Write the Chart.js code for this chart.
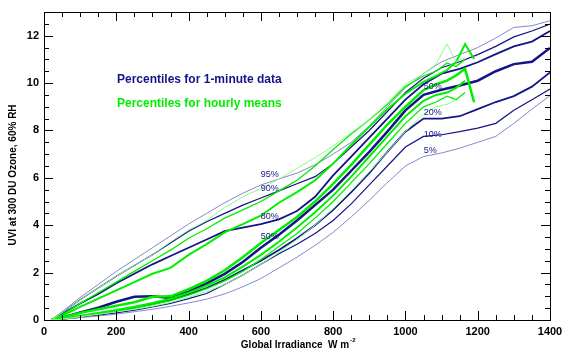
<!DOCTYPE html>
<html>
<head>
<meta charset="utf-8">
<script src="https://cdn.jsdelivr.net/npm/chart.js@4.4.0/dist/chart.umd.min.js"></script>
<style>
  html, body { margin: 0; padding: 0; background: #fff; }
</style>
</head>
<body>
<canvas id="uviChart" width="562" height="349"></canvas>
<script>
// irradiance (W m-2) where the percentile curves were read
const minuteX = [20, 50, 100, 150, 200, 250, 300, 350, 400, 450, 500, 550, 600, 650, 700, 750, 800, 850, 900, 950, 1000, 1050, 1100, 1150, 1200, 1250, 1300, 1350, 1400];
const hourlyX = [20, 50, 100, 150, 200, 250, 300, 350, 400, 450, 500, 550, 600, 650, 700, 750, 800, 850, 900, 950, 1000, 1050, 1085, 1115, 1140, 1165, 1190];

// percentiles for 1-minute data
const min95 = [0, 0.35, 0.95, 1.5, 2.05, 2.55, 3.05, 3.55, 4.05, 4.5, 4.95, 5.35, 5.7, 5.95, 6.2, 6.55, 7.0, 7.5, 8.2, 9.0, 9.8, 10.4, 10.9, 11.2, 11.5, 11.9, 12.35, 12.42, 12.63];
const min90 = [0, 0.3, 0.85, 1.35, 1.85, 2.3, 2.75, 3.25, 3.75, 4.15, 4.5, 4.85, 5.15, 5.45, 5.75, 6.05, 6.6, 7.3, 8.0, 8.8, 9.6, 10.2, 10.65, 10.9, 11.2, 11.55, 11.95, 12.2, 12.49];
const min80 = [0, 0.25, 0.7, 1.1, 1.55, 1.95, 2.35, 2.7, 3.05, 3.4, 3.75, 3.9, 4.05, 4.25, 4.6, 5.2, 6.1, 6.9, 7.7, 8.5, 9.3, 9.95, 10.4, 10.6, 10.88, 11.22, 11.55, 11.75, 12.2];
const min50 = [0, 0.1, 0.32, 0.52, 0.77, 0.98, 1.0, 0.93, 1.2, 1.55, 1.95, 2.45, 3.05, 3.6, 4.2, 4.85, 5.5, 6.3, 7.1, 7.95, 8.85, 9.5, 9.72, 9.9, 10.1, 10.5, 10.8, 10.9, 11.48];
const min20 = [0, 0.05, 0.15, 0.25, 0.38, 0.52, 0.68, 0.85, 1.08, 1.35, 1.7, 2.1, 2.5, 2.95, 3.45, 4.0, 4.65, 5.4, 6.2, 7.1, 7.95, 8.5, 8.5, 8.6, 8.9, 9.2, 9.45, 9.85, 10.45];
const min10 = [0, 0.04, 0.12, 0.2, 0.3, 0.42, 0.55, 0.7, 0.9, 1.12, 1.5, 1.9, 2.35, 2.8, 3.2, 3.65, 4.2, 4.9, 5.7, 6.5, 7.3, 7.75, 7.82, 7.95, 8.1, 8.3, 8.85, 9.3, 9.75];
const min5 = [0, 0.03, 0.1, 0.17, 0.25, 0.35, 0.45, 0.58, 0.72, 0.88, 1.1, 1.4, 1.75, 2.2, 2.65, 3.15, 3.7, 4.35, 5.05, 5.8, 6.5, 6.9, 7.05, 7.25, 7.5, 7.75, 8.3, 8.9, 9.47];

// percentiles for hourly means
const hr95 = [0, 0.3, 0.85, 1.35, 1.85, 2.3, 2.75, 3.3, 3.8, 4.2, 4.75, 5.2, 5.55, 5.95, 6.4, 6.85, 7.35, 7.9, 8.45, 9.15, 9.95, 10.4, 10.8, 11.65, 10.9, 11.1, null];
const hr90 = [0, 0.22, 0.7, 1.15, 1.6, 2.05, 2.5, 2.95, 3.45, 3.85, 4.3, 4.65, 5.0, 5.45, 5.9, 6.5, 7.2, 7.85, 8.45, 9.1, 9.85, 10.3, 10.5, 10.85, 10.7, 11.0, null];
const hr80 = [0, 0.18, 0.55, 0.9, 1.25, 1.6, 1.95, 2.2, 2.75, 3.2, 3.7, 4.05, 4.4, 4.95, 5.4, 5.9, 6.6, 7.4, 8.15, 8.9, 9.55, 10.05, 10.3, 10.55, 10.88, 11.65, 11.02];
const hr50 = [0, 0.1, 0.3, 0.45, 0.6, 0.75, 0.98, 1.0, 1.3, 1.65, 2.1, 2.65, 3.25, 3.8, 4.35, 5.0, 5.75, 6.55, 7.4, 8.25, 9.0, 9.7, 9.95, 10.1, 10.32, 10.6, 9.19];
const hr20 = [0, 0.06, 0.18, 0.3, 0.42, 0.56, 0.72, 0.9, 1.15, 1.45, 1.8, 2.25, 2.75, 3.3, 3.9, 4.55, 5.25, 6.05, 6.9, 7.75, 8.6, 9.25, 9.5, 9.6, 9.8, 10.1, null];
const hr10 = [0, 0.05, 0.16, 0.27, 0.38, 0.5, 0.65, 0.82, 1.05, 1.32, 1.65, 2.05, 2.55, 3.1, 3.65, 4.3, 5.0, 5.8, 6.6, 7.45, 8.3, 9.0, 9.2, 9.45, 9.3, 9.6, null];
const hr5 = [0, 0.04, 0.14, 0.24, 0.34, 0.45, 0.58, 0.74, 0.95, 1.2, 1.5, 1.9, 2.35, 2.85, 3.4, 4.0, 4.7, 5.45, 6.25, 7.1, 7.95, 8.7, 9.0, 9.1, 9.3, null, null];

const NAVY = "rgb(20,20,135)";
const NAVY_LIGHT = "rgb(135,135,205)";
const GREEN = "rgb(0,238,0)";
const GREEN_LIGHT = "rgb(140,250,140)";

// label text on the curves (data coords)
const pctLabels = [
  { t: "95%", x: 600, y: 6.15 },
  { t: "90%", x: 600, y: 5.56 },
  { t: "80%", x: 600, y: 4.35 },
  { t: "50%", x: 600, y: 3.54 },
  { t: "50%", x: 1051, y: 9.87 },
  { t: "20%", x: 1051, y: 8.76 },
  { t: "10%", x: 1051, y: 7.83 },
  { t: "5%", x: 1051, y: 7.16 },
];

function makeSet(xs, ys, color, width, order) {
  return {
    data: xs.map((x, i) => ({ x: x, y: ys[i] })),
    borderColor: color,
    borderWidth: width,
    pointRadius: 0,
    fill: false,
    tension: 0,
    spanGaps: false,
    order: order,
  };
}

const datasets = [
  makeSet(hourlyX, hr95, GREEN_LIGHT, 1, 0),
  makeSet(hourlyX, hr5, GREEN_LIGHT, 1, 0),
  makeSet(hourlyX, hr90, GREEN, 1.3, 0),
  makeSet(hourlyX, hr10, GREEN, 1.3, 0),
  makeSet(hourlyX, hr80, GREEN, 2, 0),
  makeSet(hourlyX, hr20, GREEN, 2, 0),
  makeSet(hourlyX, hr50, GREEN, 2.5, 0),
  makeSet(minuteX, min95, NAVY_LIGHT, 1, 1),
  makeSet(minuteX, min5, NAVY_LIGHT, 1, 1),
  makeSet(minuteX, min90, NAVY, 1.2, 1),
  makeSet(minuteX, min10, NAVY, 1.2, 1),
  makeSet(minuteX, min80, NAVY, 1.8, 1),
  makeSet(minuteX, min20, NAVY, 1.8, 1),
  makeSet(minuteX, min50, NAVY, 2.5, 1),
];

// box, inward ticks on all sides, titles and labels
const decor = {
  id: "decor",
  afterDatasetsDraw(chart) {
    const { ctx, chartArea: a, scales } = chart;
    const x = scales.x, y = scales.y;
    ctx.save();
    ctx.strokeStyle = "#000";
    ctx.lineWidth = 1;
    ctx.strokeRect(a.left + 0.5, a.top + 0.5, a.right - a.left, a.bottom - a.top);
    ctx.beginPath();
    for (let v = 0; v <= 1400; v += 50) {
      const px = Math.round(x.getPixelForValue(v)) + 0.5;
      const len = v % 200 === 0 ? 9 : 5;
      ctx.moveTo(px, a.bottom); ctx.lineTo(px, a.bottom - len);
      ctx.moveTo(px, a.top); ctx.lineTo(px, a.top + len);
    }
    for (let v = 0; v <= 13; v += 0.5) {
      const py = Math.round(y.getPixelForValue(v)) + 0.5;
      const len = v % 2 === 0 ? 9 : 5;
      ctx.moveTo(a.left, py); ctx.lineTo(a.left + len, py);
      ctx.moveTo(a.right, py); ctx.lineTo(a.right - len, py);
    }
    ctx.stroke();

    // percentile labels
    ctx.fillStyle = NAVY;
    ctx.font = "9px 'Liberation Sans', Arial, sans-serif";
    ctx.textBaseline = "middle";
    ctx.textAlign = "left";
    pctLabels.forEach((l) => {
      ctx.fillText(l.t, x.getPixelForValue(l.x), y.getPixelForValue(l.y));
    });

    // legend text
    ctx.font = "bold 12px 'Liberation Sans', Arial, sans-serif";
    ctx.fillStyle = NAVY;
    ctx.fillText("Percentiles for 1-minute data", 117, 80);
    ctx.fillStyle = GREEN;
    ctx.fillText("Percentiles for hourly means", 117, 104);

    // axis titles
    ctx.fillStyle = "#000";
    ctx.font = "bold 10px 'Liberation Sans', Arial, sans-serif";
    ctx.textAlign = "center";
    ctx.save();
    ctx.translate(13, 175);
    ctx.rotate(-Math.PI / 2);
    ctx.fillText("UVI at 300 DU Ozone, 60% RH", 0, 0);
    ctx.restore();
    ctx.textAlign = "left";
    ctx.textBaseline = "alphabetic";
    const t = "Global Irradiance  W m";
    const w = ctx.measureText(t).width;
    const sx = 295 - w / 2;
    ctx.fillText(t, sx, 348);
    ctx.font = "bold 6px 'Liberation Sans', Arial, sans-serif";
    ctx.fillText("-2", sx + w + 1, 342);
    ctx.restore();
  },
};

const tickFont = { family: "'Liberation Sans', Arial, sans-serif", size: 11, weight: "bold" };

new Chart(document.getElementById("uviChart"), {
  type: "line",
  data: { datasets: datasets },
  options: {
    responsive: false,
    animation: false,
    devicePixelRatio: 1,
    layout: { padding: { left: 0, right: 12, top: 12, bottom: 0 } },
    plugins: { legend: { display: false }, tooltip: { enabled: false } },
    scales: {
      x: {
        type: "linear",
        min: 0,
        max: 1400,
        grid: { display: false, drawTicks: false },
        border: { display: false },
        ticks: {
          stepSize: 200,
          includeBounds: false,
          maxRotation: 0,
          padding: 5,
          color: "#000",
          font: tickFont,
          callback: (v) => String(v),
        },
        afterFit(s) {
          s.height = 29;
          s.paddingLeft = 0;
          s.paddingRight = 0;
        },
      },
      y: {
        type: "linear",
        min: 0,
        max: 13,
        grid: { display: false, drawTicks: false },
        border: { display: false },
        ticks: {
          stepSize: 2,
          includeBounds: false,
          padding: 5,
          color: "#000",
          font: tickFont,
          callback: (v) => String(v),
        },
        afterFit(s) {
          s.width = 44;
          s.paddingTop = 0;
          s.paddingBottom = 0;
        },
      },
    },
  },
  plugins: [decor],
});
</script>
</body>
</html>
